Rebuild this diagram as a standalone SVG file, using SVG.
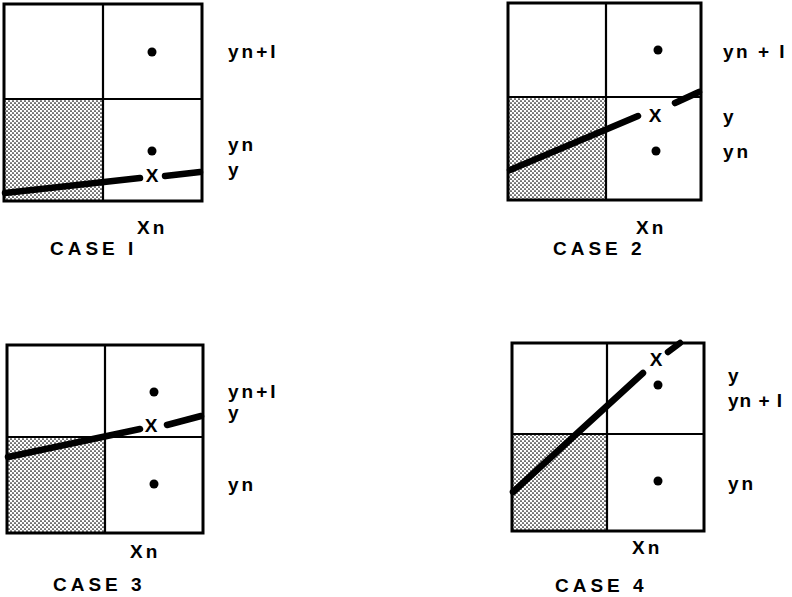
<svg xmlns="http://www.w3.org/2000/svg" width="792" height="597" viewBox="0 0 792 597">
<defs>
<pattern id="dots" patternUnits="userSpaceOnUse" width="4" height="4">
<rect width="4" height="4" fill="#fff"/>
<circle cx="1" cy="1" r="0.85" fill="#000"/>
<circle cx="3" cy="3" r="0.85" fill="#000"/>
</pattern>
<style>
.box{fill:none;stroke:#000;stroke-width:3}
.grid{stroke:#000;stroke-width:2.2;fill:none}
.shade{fill:url(#dots)}
.line{stroke:#000;stroke-width:6.5;stroke-linecap:round;fill:none}
.pt{fill:#000}
text{font-family:"Liberation Sans","DejaVu Sans",sans-serif;font-size:19px;font-weight:bold;fill:#000;letter-spacing:3px}
.x{text-anchor:middle;letter-spacing:0}
.c{letter-spacing:4px}
.t{letter-spacing:1px}
.w{letter-spacing:2.5px}
</style>
</defs>
<rect width="792" height="597" fill="#fff"/>

<g id="case1">
<rect class="shade" x="4" y="99" width="99" height="102"/>
<rect class="box" x="4" y="4" width="198" height="197"/>
<path class="grid" d="M103 4V201M4 99H202"/>
<circle class="pt" cx="152" cy="52" r="4.5"/>
<circle class="pt" cx="152" cy="151" r="4.5"/>
<text class="x" x="152" y="182">X</text>
<text x="228" y="58">yn+I</text>
<text x="228" y="151">yn</text>
<text x="228" y="176">y</text>
<text x="137" y="234">Xn</text>
<text class="c" x="50" y="255">CASE I</text>
</g>

<g id="case2">
<rect class="shade" x="508" y="97" width="98" height="103"/>
<rect class="box" x="508" y="3" width="193" height="197"/>
<path class="grid" d="M606 3V200M508 97H701"/>
<circle class="pt" cx="658" cy="50" r="4.5"/>
<circle class="pt" cx="656" cy="151" r="4.5"/>
<text class="x" x="655" y="122">X</text>
<text class="w" x="723" y="58">yn + I</text>
<text x="723" y="123">y</text>
<text x="723" y="158">yn</text>
<text x="636" y="234">Xn</text>
<text class="c" x="553" y="255">CASE 2</text>
</g>

<g id="case3">
<rect class="shade" x="7" y="437" width="98" height="96"/>
<rect class="box" x="7" y="345" width="196" height="188"/>
<path class="grid" d="M105 345V533M7 437H203"/>
<circle class="pt" cx="154" cy="392" r="4.5"/>
<circle class="pt" cx="154" cy="484" r="4.5"/>
<text class="x" x="151" y="432">X</text>
<text x="228" y="398">yn+I</text>
<text x="228" y="419">y</text>
<text x="228" y="491">yn</text>
<text x="130" y="558">Xn</text>
<text class="c" x="53" y="591">CASE 3</text>
</g>

<g id="case4">
<rect class="shade" x="512" y="434" width="95" height="97"/>
<rect class="box" x="512" y="343" width="192" height="188"/>
<path class="grid" d="M607 343V531M512 434H704"/>
<circle class="pt" cx="658" cy="385" r="4.5"/>
<circle class="pt" cx="658" cy="481" r="4.5"/>
<text class="x" x="656" y="366">X</text>
<text x="728" y="382">y</text>
<text class="t" x="728" y="407">yn + I</text>
<text x="728" y="490">yn</text>
<text x="632" y="554">Xn</text>
<text class="c" x="555" y="592">CASE 4</text>
</g>

<g id="connectors">
<path class="line" d="M5 193L140 178M165 176L200 172"/>
<path class="line" d="M510 170L638 116M675 103L699 92"/>
<path class="line" d="M8 457L140 429M167 425L201 416"/>
<path class="line" d="M513 492L643 373M668 352L680 343"/>
</g>
</svg>
